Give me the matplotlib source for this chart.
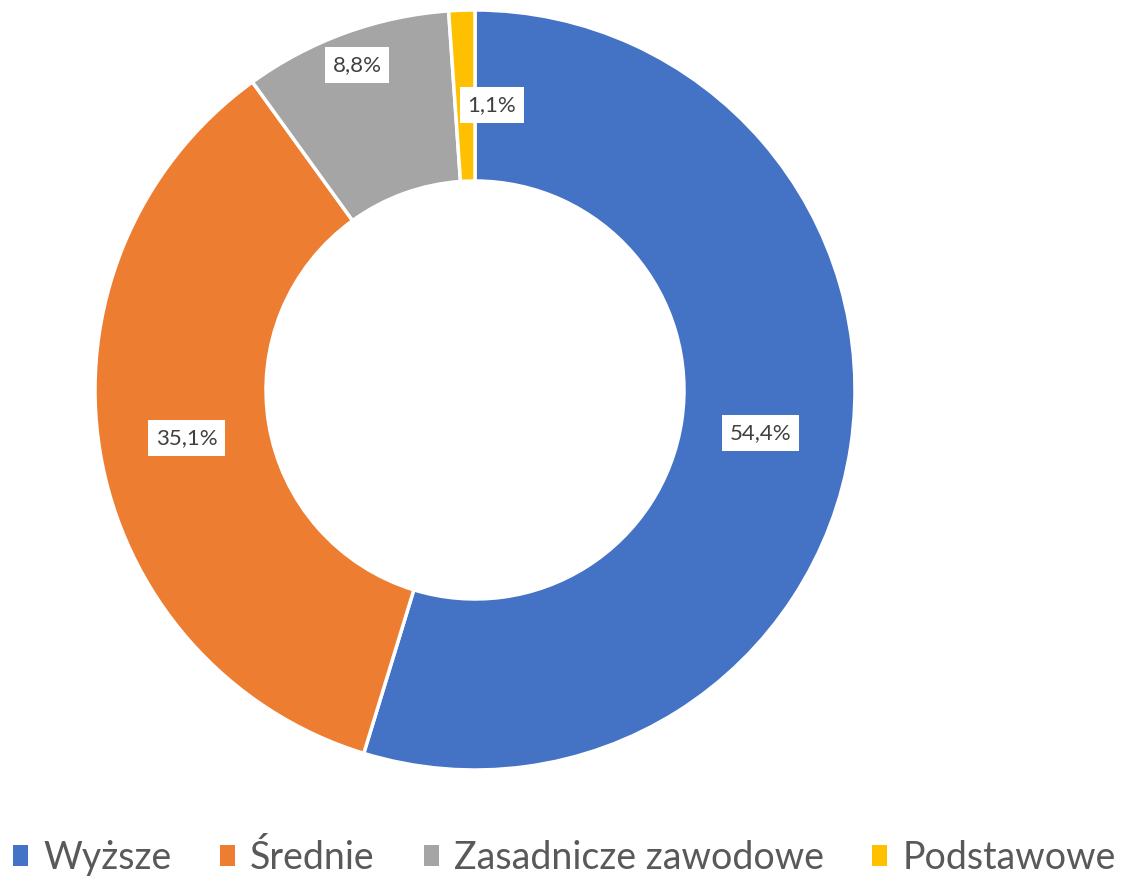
import matplotlib.pyplot as plt
import numpy as np
from matplotlib.patches import Patch

plt.rcParams['font.family'] = ['Lato', 'DejaVu Sans']

# data
categories = ['Wyższe', 'Średnie', 'Zasadnicze zawodowe', 'Podstawowe']
values = [54.4, 35.1, 8.8, 1.1]
labels = ['54,4%', '35,1%', '8,8%', '1,1%']
colors = ['#4472C4', '#ED7D31', '#A5A5A5', '#FFC000']

fig = plt.figure(figsize=(11.29, 8.77), dpi=100)
ax = fig.add_axes([95 / 1129, 107 / 877, 760 / 1129, 760 / 877])

wedges, _ = ax.pie(values, colors=colors, startangle=90, counterclock=False,
                   radius=1.0, wedgeprops=dict(width=0.45, edgecolor='white', linewidth=2.5))
ax.set_xlim(-1, 1)
ax.set_ylim(-1, 1)
ax.set_aspect('equal')
ax.axis('off')

# label radius and small nudges per slice
label_r = [0.76, 0.77, 0.91, 0.75]
nudge = [(0, 0), (0, 0), (0, 0), (0.07, 0)]
for w, lab, r, (dx, dy) in zip(wedges, labels, label_r, nudge):
    ang = np.deg2rad((w.theta1 + w.theta2) / 2)
    x = r * np.cos(ang) + dx
    y = r * np.sin(ang) + dy
    ax.text(x, y, lab, ha='center', va='center', fontsize=16, color='#404040',
            bbox=dict(boxstyle='square,pad=0.35', facecolor='white', edgecolor='none'))

handles = [Patch(facecolor=c, edgecolor='none') for c in colors]
fig.legend(handles, categories, loc='center', bbox_to_anchor=(0.5, 1 - 858 / 877),
           ncol=4, frameon=False, fontsize=27, labelcolor='#595959',
           handlelength=0.4, handleheight=0.5, handletextpad=0.4, columnspacing=1.3)

fig.savefig('out.png', dpi=100)
